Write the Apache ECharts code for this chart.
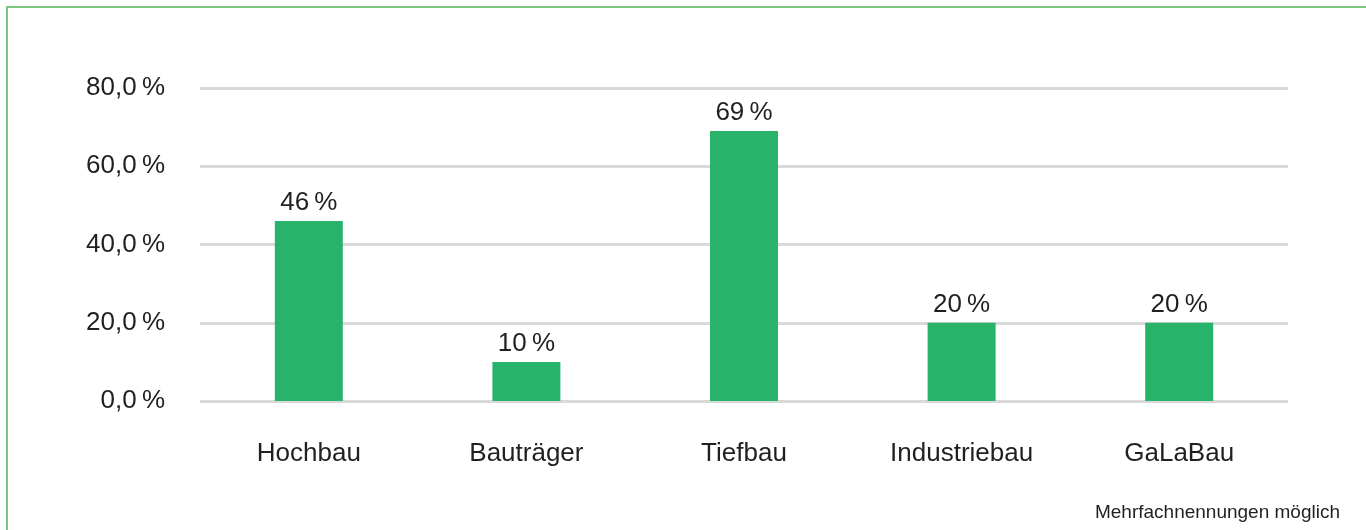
<!DOCTYPE html>
<html>
<head>
<meta charset="utf-8">
<script src="https://cdn.jsdelivr.net/npm/echarts@6/dist/echarts.min.js"></script>
<style>
  html, body { margin: 0; padding: 0; background: #fff; }
  #chart { width: 1366px; height: 530px; }
</style>
</head>
<body>
<div id="chart"></div>
<script>
// categories and values
var categories = ['Hochbau', 'Bauträger', 'Tiefbau', 'Industriebau', 'GaLaBau'];
var values = [46, 10, 69, 20, 20];
var yTicks = [0, 20, 40, 60, 80];

var chart = echarts.init(document.getElementById('chart'));

var option = {
  animation: false,
  textStyle: { fontFamily: 'Liberation Sans, Arial, sans-serif' },
  graphic: [
    // green frame, left and top edge
    { type: 'line', shape: { x1: 7, y1: 6, x2: 7, y2: 530 }, style: { stroke: '#7cc67e', lineWidth: 2 } },
    { type: 'line', shape: { x1: 6, y1: 7, x2: 1366, y2: 7 }, style: { stroke: '#7cc67e', lineWidth: 2 } },
    {
      type: 'text', right: 26, top: 503,
      style: { text: 'Mehrfachnennungen möglich', fill: '#231f20', font: '19px Liberation Sans, Arial, sans-serif' }
    }
  ],
  grid: { left: 200, right: 78, top: 88, bottom: 129 },
  xAxis: {
    type: 'category',
    data: categories,
    axisLine: { show: false },
    axisTick: { show: false },
    axisLabel: { color: '#231f20', fontSize: 26, margin: 40 }
  },
  yAxis: {
    type: 'value',
    min: yTicks[0],
    max: yTicks[yTicks.length - 1],
    interval: 20,
    axisLine: { show: false },
    axisTick: { show: false },
    splitLine: { lineStyle: { color: '#d9d9d9', width: 3 } },
    axisLabel: {
      color: '#231f20', fontSize: 26, margin: 35,
      formatter: function (v) { return v.toFixed(1).replace('.', ',') + '\u2009%'; }
    }
  },
  series: [{
    type: 'bar',
    data: values,
    barWidth: 68,
    itemStyle: { color: '#27b36a' },
    label: {
      show: true, position: 'top', distance: 5,
      color: '#231f20', fontSize: 26,
      formatter: function (p) { return p.value + '\u2009%'; }
    }
  }]
};

chart.setOption(option);
</script>
</body>
</html>
